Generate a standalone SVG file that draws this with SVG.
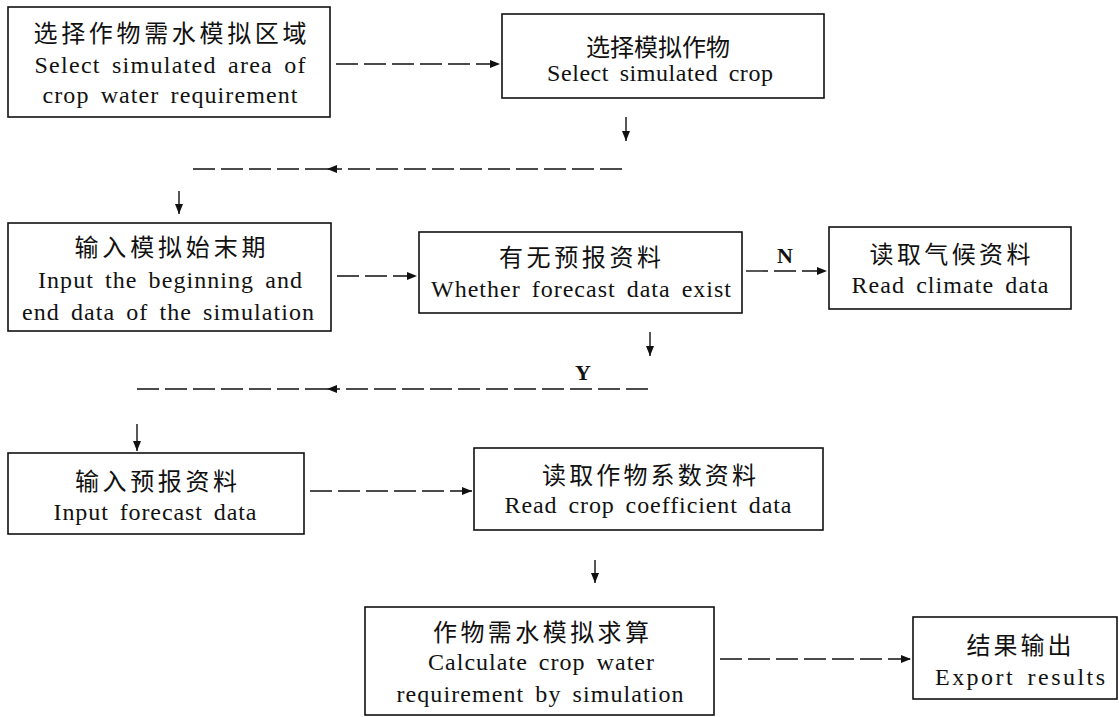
<svg xmlns="http://www.w3.org/2000/svg" width="1119" height="717" viewBox="0 0 1119 717">
<style>
.box{fill:#fff;stroke:#111;stroke-width:1.6}
.cn{font-family:"Noto Sans CJK SC","Noto Sans CJK JP",sans-serif;font-size:24px;fill:#111;text-anchor:middle}
.en{font-family:"Liberation Serif","Times New Roman",serif;font-size:24px;fill:#111;text-anchor:middle;word-spacing:4px}
.lbl{font-family:"Liberation Serif","Times New Roman",serif;font-size:22px;font-weight:bold;fill:#111;text-anchor:middle}
.dash{fill:none;stroke:#111;stroke-width:1.4;stroke-dasharray:22 6}
.solid{fill:none;stroke:#111;stroke-width:1.4}
</style>
<defs>
<marker id="ah" viewBox="0 0 10 8" refX="10" refY="4" markerWidth="10" markerHeight="8" markerUnits="userSpaceOnUse" orient="auto">
<path d="M0,0 L10,4 L0,8 Z" fill="#111"/>
</marker>
</defs>
<rect width="1119" height="717" fill="#fff"/>
<g id="connectors">
<path class="dash" d="M336,64 L500,64" marker-end="url(#ah)"/>
<path class="solid" d="M626,117 L626,141" marker-end="url(#ah)"/>
<path class="dash" d="M622,169 L327,169" marker-end="url(#ah)"/>
<path class="dash" d="M327,169 L188,169"/>
<path class="solid" d="M179,191 L179,214" marker-end="url(#ah)"/>
<path class="dash" d="M337,276 L417,276" marker-end="url(#ah)"/>
<path class="dash" d="M746,271 L827,271" marker-end="url(#ah)"/>
<path class="solid" d="M650,332 L650,356" marker-end="url(#ah)"/>
<path class="dash" d="M648,389 L327,389" marker-end="url(#ah)"/>
<path class="dash" d="M327,389 L134,389"/>
<path class="solid" d="M137,424 L137,451" marker-end="url(#ah)"/>
<path class="dash" d="M310,491 L472,491" marker-end="url(#ah)"/>
<path class="solid" d="M595,560 L595,583" marker-end="url(#ah)"/>
<path class="dash" d="M720,659 L911,659" marker-end="url(#ah)"/>
<text class="lbl" x="785" y="263">N</text>
<text class="lbl" x="583" y="380">Y</text>
</g>
<g id="n1">
<rect class="box" x="8" y="7" width="322" height="110"/>
<text class="cn" x="170" y="42" textLength="273" lengthAdjust="spacing">选择作物需水模拟区域</text>
<text class="en" x="170" y="73" textLength="271" lengthAdjust="spacing">Select simulated area of</text>
<text class="en" x="170" y="103" textLength="255" lengthAdjust="spacing">crop water requirement</text>
</g>
<g id="n2">
<rect class="box" x="502" y="14" width="322" height="84"/>
<text class="cn" x="658" y="56" textLength="144" lengthAdjust="spacing">选择模拟作物</text>
<text class="en" x="660" y="81" textLength="226" lengthAdjust="spacing">Select simulated crop</text>
</g>
<g id="n3">
<rect class="box" x="8" y="223" width="323" height="108"/>
<text class="cn" x="170" y="256" textLength="191" lengthAdjust="spacing">输入模拟始末期</text>
<text class="en" x="170" y="288" textLength="264" lengthAdjust="spacing">Input the beginning and</text>
<text class="en" x="168" y="320" textLength="292" lengthAdjust="spacing">end data of the simulation</text>
</g>
<g id="n4">
<rect class="box" x="419" y="232" width="323" height="81"/>
<text class="cn" x="580" y="266" textLength="162" lengthAdjust="spacing">有无预报资料</text>
<text class="en" x="581" y="297" textLength="300" lengthAdjust="spacing">Whether forecast data exist</text>
</g>
<g id="n5">
<rect class="box" x="829" y="227" width="242" height="82"/>
<text class="cn" x="950" y="263" textLength="161" lengthAdjust="spacing">读取气候资料</text>
<text class="en" x="950" y="293" textLength="197" lengthAdjust="spacing">Read climate data</text>
</g>
<g id="n6">
<rect class="box" x="8" y="453" width="296" height="81"/>
<text class="cn" x="156" y="490" textLength="162" lengthAdjust="spacing">输入预报资料</text>
<text class="en" x="155" y="520" textLength="203" lengthAdjust="spacing">Input forecast data</text>
</g>
<g id="n7">
<rect class="box" x="474" y="448" width="349" height="82"/>
<text class="cn" x="649" y="484" textLength="214" lengthAdjust="spacing">读取作物系数资料</text>
<text class="en" x="648" y="513" textLength="287" lengthAdjust="spacing">Read crop coefficient data</text>
</g>
<g id="n8">
<rect class="box" x="365" y="607" width="349" height="108"/>
<text class="cn" x="541" y="641" textLength="216" lengthAdjust="spacing">作物需水模拟求算</text>
<text class="en" x="541" y="670" textLength="226" lengthAdjust="spacing">Calculate crop water</text>
<text class="en" x="540" y="702" textLength="287" lengthAdjust="spacing">requirement by simulation</text>
</g>
<g id="n9">
<rect class="box" x="913" y="617" width="204" height="82"/>
<text class="cn" x="1019" y="654" textLength="105" lengthAdjust="spacing">结果输出</text>
<text class="en" x="1020" y="685" textLength="170" lengthAdjust="spacing">Export results</text>
</g>
</svg>
